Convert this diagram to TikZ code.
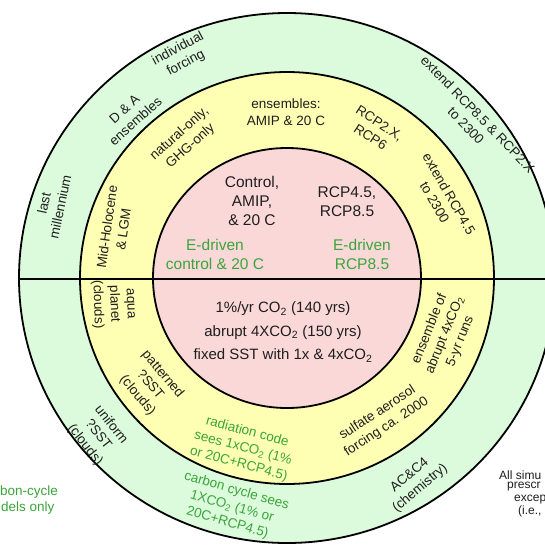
\documentclass[tikz,border=0pt]{standalone}
\usepackage{fontspec}
\setmainfont{Liberation Sans}
\definecolor{outerring}{RGB}{220,250,220}
\definecolor{midring}{RGB}{255,255,180}
\definecolor{corefill}{RGB}{250,216,216}
\definecolor{ink}{RGB}{30,30,30}
\definecolor{edrive}{RGB}{58,165,58}
\tikzset{
  ring/.style={draw=black, line width=1.8pt},
  lbl/.style={align=center, inner sep=0pt, text=ink,
    font=\fontsize{13.5}{16.5}\selectfont},
  glbl/.style={lbl, text=edrive},
  corelbl/.style={align=center, inner sep=0pt, text=ink,
    font=\fontsize{15.5}{19}\selectfont},
  gcorelbl/.style={corelbl, text=edrive},
  sidelbl/.style={inner sep=0pt, font=\fontsize{12}{14}\selectfont},
}
\newcommand{\cotwo}{CO\textsubscript{2}}
\begin{document}
\begin{tikzpicture}[x=1pt, y=-1pt]
  \useasboundingbox (0,0) rectangle (545,547);
  \clip (0,0) rectangle (545,547);
  \fill[white] (0,0) rectangle (545,547);

  % nested rings
  \coordinate (ctr) at (287,278);
  \filldraw[ring, fill=outerring] (ctr) ellipse [x radius=268, y radius=265];
  \filldraw[ring, fill=midring]   (ctr) ellipse [x radius=207, y radius=206];
  \filldraw[ring, fill=corefill]  (ctr) ellipse [x radius=134, y radius=130];
  \coordinate (wend) at (19,279);
  \coordinate (eend) at (555,279);
  \draw[line width=1.8pt] (wend) -- (eend);

  % core, upper half
  \node[corelbl]  (ctrl)  at (252,201) {Control,\\AMIP,\\\& 20 C};
  \node[corelbl]  (rcp)   at (347,202) {RCP4.5,\\RCP8.5};
  \node[gcorelbl] (ectrl) at (215,254) {E-driven\\control \& 20 C};
  \node[gcorelbl] (ercp)  at (362,254) {E-driven\\RCP8.5};

  % core, lower half
  \node[corelbl, font=\fontsize{15}{23.5}\selectfont] (idealized) at (283,332)
    {1\%/yr \cotwo{} (140 yrs)\\abrupt 4X\cotwo{} (150 yrs)\\fixed SST with 1x \& 4x\cotwo};

  % middle ring, upper half
  \node[lbl] (ens)   at (286,112) {ensembles:\\AMIP \& 20 C};
  \node[lbl, rotate=42]  (natghg) at (185,140) {natural-only,\\GHG-only};
  \node[lbl, rotate=82]  (midhol) at (115,228) {Mid-Holocene\\\& LGM};
  \node[lbl, rotate=-33] (rcp26)  at (375,130) {RCP2.X,\\RCP6};
  \node[lbl, rotate=-60] (ext45)  at (442,198) {extend RCP4.5\\to 2300};

  % outer ring, upper half
  \node[lbl, rotate=28]  (indiv)  at (182,56)  {individual\\forcing};
  \node[lbl, rotate=42]  (dna)    at (130,115) {D \& A\\ensembles};
  \node[lbl, rotate=78]  (lastm)  at (52,205)  {last\\millennium};
  \node[lbl, rotate=-46] (ext85)  at (472,120) {extend RCP8.5 \& RCP2.X\\to 2300};

  % middle ring, lower half
  \node[lbl, rotate=-88] (aqua)   at (113,304) {aqua\\planet\\(clouds)};
  \node[lbl, rotate=-50] (patt)   at (150,385) {patterned\\?SST\\(clouds)};
  \node[glbl, rotate=-15] (radcode) at (243,448) {radiation code\\sees 1x\cotwo{} (1\%\\or 20C+RCP4.5)};
  \node[lbl, rotate=33]  (sulf)   at (382,420) {sulfate aerosol\\forcing ca. 2000};
  \node[lbl, rotate=68]  (abr)    at (445,335) {ensemble of\\abrupt 4x\cotwo\\5-yr runs};

  % outer ring, lower half
  \node[lbl, rotate=-52] (unif)   at (98,435)  {uniform\\?SST\\(clouds)};
  \node[glbl, rotate=-16] (carb)  at (232,507) {carbon cycle sees\\1X\cotwo{} (1\% or\\20C+RCP4.5)};
  \node[lbl, rotate=40]  (chem)   at (415,482) {AC\&C4\\(chemistry)};

  % side notes
  \node[sidelbl, text=edrive, anchor=west, font=\fontsize{13.5}{15}\selectfont] (cc1) at (0,492) {bon-cycle};
  \node[sidelbl, text=edrive, anchor=west, font=\fontsize{13.5}{15}\selectfont] (cc2) at (1,508) {dels only};
  \node[sidelbl, text=ink, anchor=west] (as1) at (499,475) {All simu};
  \node[sidelbl, text=ink, anchor=west] (as2) at (507,487) {prescr};
  \node[sidelbl, text=ink, anchor=west] (as3) at (514,500) {excep};
  \node[sidelbl, text=ink, anchor=west] (as4) at (518,511) {(i.e.,};
\end{tikzpicture}
\end{document}
